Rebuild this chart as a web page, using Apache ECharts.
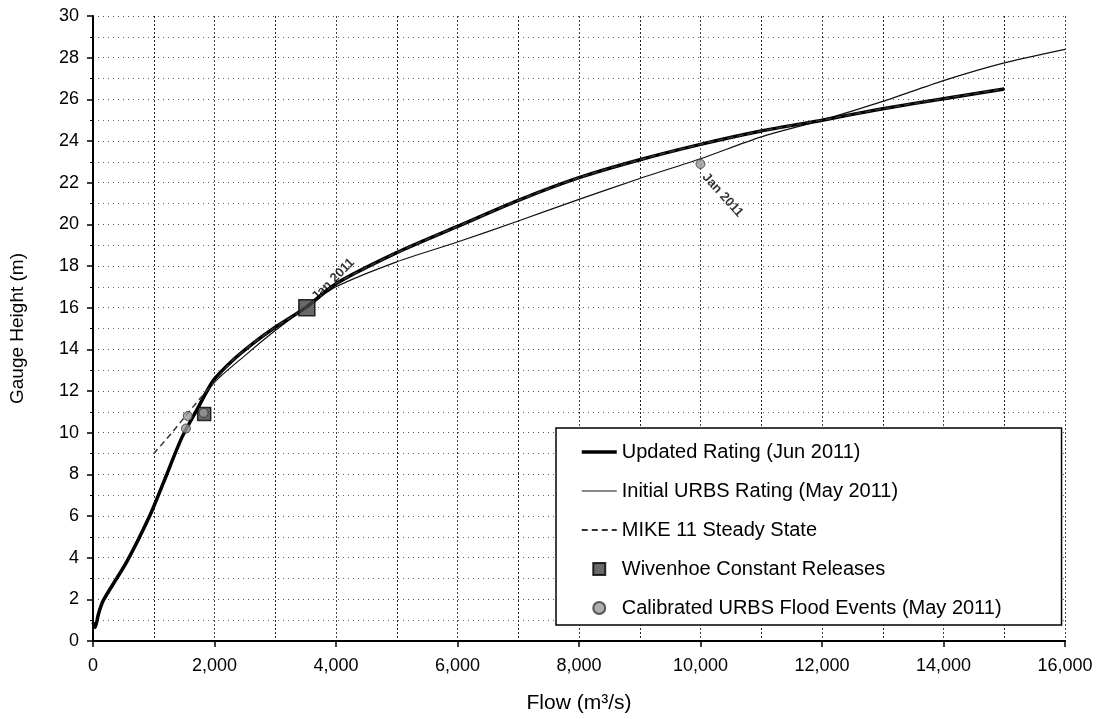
<!DOCTYPE html>
<html>
<head>
<meta charset="utf-8">
<script src="https://cdn.jsdelivr.net/npm/echarts/dist/echarts.min.js"></script>
<style>
html,body{margin:0;padding:0;background:#fff}
#chart{width:1106px;height:719px}
</style>
</head>
<body>
<div id="chart"></div>
<script>
// Updated Rating (Jun 2011) - thick line
var updatedFlow   = [0, 35, 90, 170, 555, 940, 1160, 1460, 1710, 1980, 2310, 2640, 2970, 3500, 4000, 5000, 6000, 7000, 8000, 9000, 10000, 11000, 12000, 13000, 14000, 15000];
var updatedHeight = [0.9, 0.65, 1.3, 1.95, 3.8, 6.05, 7.6, 9.75, 11.1, 12.5, 13.5, 14.3, 15.0, 16.0, 17.15, 18.64, 19.9, 21.15, 22.24, 23.1, 23.84, 24.48, 25.0, 25.55, 26.03, 26.5];

// Initial URBS Rating (May 2011) - thin line
var initialFlow   = [0, 35, 90, 170, 555, 940, 1160, 1460, 1710, 1980, 2500, 3000, 3500, 4000, 5000, 6000, 7000, 8000, 9000, 10000, 11000, 12000, 13000, 14000, 15000, 16000];
var initialHeight = [0.9, 0.65, 1.3, 1.95, 3.8, 6.05, 7.6, 9.75, 11.0, 12.35, 13.7, 14.9, 16.0, 17.0, 18.2, 19.15, 20.16, 21.2, 22.2, 23.15, 24.2, 25.0, 25.9, 26.9, 27.75, 28.4];

// MIKE 11 Steady State - dashed line
var mikeFlow   = [1000, 1300, 1550, 1750, 2000, 2310, 2640, 2970, 3500, 4000, 5000, 6000, 7000, 8000, 9000, 10000, 11000, 12000, 13000, 14000, 15000];
var mikeHeight = [9.0, 10.0, 10.9, 11.6, 12.45, 13.5, 14.3, 15.0, 16.0, 17.15, 18.64, 19.9, 21.15, 22.24, 23.1, 23.84, 24.48, 25.0, 25.55, 26.03, 26.5];

// Wivenhoe Constant Releases
var wivFlow   = [3520, 1830];
var wivHeight = [16.0, 10.9];
var wivLabels = ['Jan 2011', ''];

// Calibrated URBS Flood Events (May 2011)
var calFlow   = [1820, 1560, 1530, 10000];
var calHeight = [10.95, 10.8, 10.2, 22.9];
var calLabels = ['', '', '', 'Jan 2011'];

var xTicks = [0, 2000, 4000, 6000, 8000, 10000, 12000, 14000, 16000];
var yTicks = [0, 2, 4, 6, 8, 10, 12, 14, 16, 18, 20, 22, 24, 26, 28, 30];

function zip(a, b) {
    return a.map(function (v, i) { return [v, b[i]]; });
}

var font = 'Liberation Sans, Arial, sans-serif';
var hideDot = {opacity: 0};

var chart = echarts.init(document.getElementById('chart'), null, {renderer: 'canvas'});

var option = {
    animation: false,
    backgroundColor: '#fff',
    grid: {left: 93, right: 41, top: 16, bottom: 78},
    xAxis: {
        type: 'value',
        min: xTicks[0],
        max: xTicks[xTicks.length - 1],
        interval: 2000,
        name: 'Flow (m\u00b3/s)',
        nameLocation: 'middle',
        nameGap: 52,
        nameTextStyle: {fontSize: 21, fontFamily: font, color: '#000'},
        axisLine: {lineStyle: {color: '#000', width: 2}},
        axisTick: {show: true, length: 6, lineStyle: {color: '#000', width: 1.5}},
        axisLabel: {
            fontSize: 18, fontFamily: font, color: '#000', margin: 16,
            formatter: function (v) { return v.toLocaleString('en-US'); }
        },
        splitLine: {show: true, lineStyle: {color: '#444', type: [2, 2], width: 1}},
        minorTick: {show: false, splitNumber: 2},
        minorSplitLine: {show: true, lineStyle: {color: '#222', type: [2, 2], width: 1}}
    },
    yAxis: {
        type: 'value',
        min: yTicks[0],
        max: yTicks[yTicks.length - 1],
        interval: 2,
        name: 'Gauge Height (m)',
        nameLocation: 'middle',
        nameGap: 66,
        nameTextStyle: {fontSize: 19, fontFamily: font, color: '#000'},
        axisLine: {show: true, lineStyle: {color: '#000', width: 2}},
        axisTick: {show: true, length: 6, lineStyle: {color: '#000', width: 1.5}},
        axisLabel: {fontSize: 18, fontFamily: font, color: '#000', margin: 14},
        splitLine: {show: true, lineStyle: {color: '#555', type: [1, 4], width: 1}},
        minorTick: {show: true, splitNumber: 2, length: 3, lineStyle: {color: '#000'}},
        minorSplitLine: {show: true, lineStyle: {color: '#666', type: [1, 4], width: 1}}
    },
    legend: {
        orient: 'vertical',
        left: 556,
        top: 428,
        itemWidth: 35,
        itemHeight: 12,
        itemGap: 19,
        padding: [14, 60, 7, 24],
        backgroundColor: '#fff',
        borderColor: '#000',
        borderWidth: 1.5,
        textStyle: {fontSize: 20, fontFamily: font, color: '#000'},
        data: [
            {name: 'Updated Rating (Jun 2011)', itemStyle: hideDot, lineStyle: {width: 3.5, color: '#000'}},
            {name: 'Initial URBS Rating (May 2011)', itemStyle: hideDot, lineStyle: {width: 1.2, color: '#111'}},
            {name: 'MIKE 11 Steady State', itemStyle: hideDot},
            {name: 'Wivenhoe Constant Releases', icon: 'path://M0,0L10,0L10,10L0,10Z'},
            {name: 'Calibrated URBS Flood Events (May 2011)', icon: 'path://M5,0A5,5,0,1,1,4.99,0Z'}
        ]
    },
    series: [
        {
            name: 'Updated Rating (Jun 2011)',
            type: 'line',
            data: zip(updatedFlow, updatedHeight),
            symbol: 'none',
            smooth: 0.25,
            lineStyle: {color: '#000', width: 3.5},
            itemStyle: {color: '#000'},
            z: 3
        },
        {
            name: 'Initial URBS Rating (May 2011)',
            type: 'line',
            data: zip(initialFlow, initialHeight),
            symbol: 'none',
            smooth: 0.25,
            lineStyle: {color: '#111', width: 1.2},
            itemStyle: {color: '#111'},
            z: 2
        },
        {
            name: 'MIKE 11 Steady State',
            type: 'line',
            data: zip(mikeFlow, mikeHeight),
            symbol: 'none',
            smooth: 0.25,
            lineStyle: {color: '#333', width: 1.5, type: [6, 4]},
            itemStyle: {color: '#333'},
            z: 4
        },
        {
            name: 'Wivenhoe Constant Releases',
            type: 'scatter',
            data: zip(wivFlow, wivHeight),
            symbol: 'rect',
            symbolSize: function (v, p) { return p.dataIndex === 0 ? 16 : 13; },
            itemStyle: {color: '#444', borderColor: '#000', borderWidth: 1.5},
            label: {
                show: true,
                formatter: function (p) { return wivLabels[p.dataIndex]; },
                position: [16, 0],
                rotate: 45,
                align: 'left',
                verticalAlign: 'middle',
                fontSize: 13,
                fontWeight: 'bold',
                fontFamily: font,
                color: '#000'
            },
            z: 5
        },
        {
            name: 'Calibrated URBS Flood Events (May 2011)',
            type: 'scatter',
            data: zip(calFlow, calHeight),
            symbol: 'circle',
            symbolSize: 9,
            itemStyle: {color: '#999', borderColor: '#333', borderWidth: 1},
            label: {
                show: true,
                formatter: function (p) { return calLabels[p.dataIndex]; },
                position: [9, 16],
                rotate: -48,
                align: 'left',
                verticalAlign: 'middle',
                fontSize: 13,
                fontWeight: 'bold',
                fontFamily: font,
                color: '#000'
            },
            z: 6
        }
    ]
};

chart.setOption(option);
</script>
</body>
</html>
